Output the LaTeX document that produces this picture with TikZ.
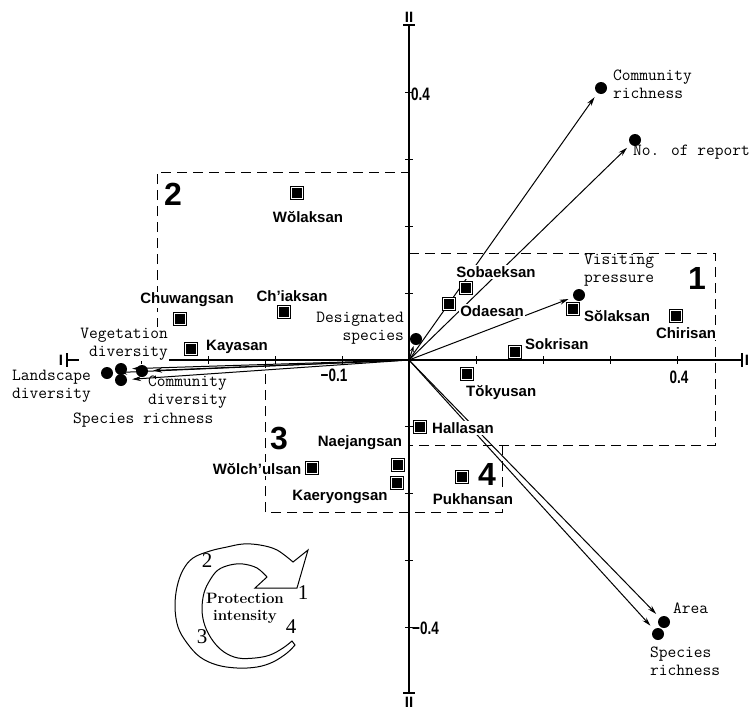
\documentclass[tikz,border=0pt]{standalone}
\usepackage{fontspec}
\newfontfamily\msans{Liberation Sans}
\newfontfamily\mserif{Liberation Serif}
\usetikzlibrary{arrows.meta}
\tikzset{
  lbl/.style={font=\fontsize{17}{18}\selectfont\ttfamily\addfontfeatures{FakeBold=0.4}, align=left, inner sep=1pt},
  mtn/.style={font=\fontsize{15}{16}\selectfont\msans\bfseries, fill=white, inner sep=1pt},
  site/.style={rectangle, draw=black, double=white, double distance=1.5pt, fill=black, line width=0.8pt, minimum size=11pt, inner sep=0pt},
  dot/.style={circle, fill=black, minimum size=12pt, inner sep=0pt},
  vec/.style={line width=1pt, -{Stealth[length=9pt, width=5pt]}, shorten >=5pt},
  grpbox/.style={line width=1pt, dash pattern=on 10pt off 6pt},
  axis/.style={line width=1.4pt},
  grp/.style={font=\fontsize{32}{32}\selectfont\msans\bfseries, inner sep=0pt, text height=23pt, text depth=0pt},
  num/.style={font=\fontsize{18}{18}\selectfont\msans\bfseries, inner sep=0pt},
  axlbl/.style={font=\fontsize{15}{15}\selectfont\msans\bfseries, inner sep=0pt},
  cyc/.style={font=\fontsize{21}{21}\selectfont\mserif, inner sep=0pt},
}
\begin{document}
\begin{tikzpicture}[x=1pt,y=-1pt]
\useasboundingbox (0,0) rectangle (749,715);
\coordinate (O) at (409,360);

% group boxes
\draw[grpbox] (157,360) -- (157,172) -- (409,172);
\draw[grpbox] (409,253) -- (715,253) -- (715,445) -- (409,445);
\draw[grpbox] (502,445) -- (502,512) -- (265,512) -- (265,360);

% axes
\coordinate (xl) at (67,360);
\coordinate (xr) at (742,360);
\coordinate (yt) at (409,25);
\coordinate (yb) at (409,693);
\draw[axis] (xl) -- (xr);
\draw[axis] (yt) -- (yb);
\foreach \k in {-4,...,4} {
  \draw[line width=1pt] (409+67*\k,356) -- (409+67*\k,364);
  \draw[line width=1pt] (405,360+66.8*\k) -- (413,360+66.8*\k);
}
\draw[line width=1.6pt] (67,353) -- (67,367);
\draw[line width=1.6pt] (742,353) -- (742,367);
\draw[line width=1.6pt] (403,25) -- (415,25);
\draw[line width=1.6pt] (403,693) -- (415,693);
\node[axlbl] (axIl) at (61,360) {I};
\node[axlbl] (axIr) at (747,360) {I};
\node[axlbl] (axIIt) at (409,17) {II};
\node[axlbl] (axIIb) at (409,702) {II};
\node[num, anchor=west] (t1) at (411,94.5) {\scalebox{0.75}[1]{0.4}};
\node[num, anchor=west] (t2) at (412,628) {\scalebox{0.75}[1]{−0.4}};
\node[num] (t3) at (334,375) {\scalebox{0.75}[1]{−0.1}};
\node[num] (t4) at (679,377) {\scalebox{0.75}[1]{0.4}};

% variable points
\node[dot] (cr) at (601,88) {};
\node[dot] (nr) at (635,140) {};
\node[dot] (vp) at (579,295) {};
\node[dot] (ds) at (416,339) {};
\node[dot] (ar) at (664,622) {};
\node[dot] (sr2) at (658,634) {};
\node[dot] (ld) at (107,373) {};
\node[dot] (vd) at (121,369) {};
\node[dot] (cd) at (121,380) {};
\node[dot] (sr1) at (142,371) {};

\draw[vec] (O) -- (cr);
\draw[vec] (O) -- (nr);
\draw[vec] (O) -- (vp);
\draw[vec, shorten >=1pt, -{Stealth[length=6pt,width=4pt]}] (O) -- (ds);
\draw[vec] (O) -- (ar);
\draw[vec] (O) -- (sr2);
\draw[vec] (O) -- (ld);
\draw[vec] (O) -- (vd);
\draw[vec] (O) -- (cd);
\draw[vec] (O) -- (sr1);

% sites
\node[site] (s1) at (297,193) {};
\node[site] (s2) at (180,319) {};
\node[site] (s3) at (284,312) {};
\node[site] (s4) at (191,349) {};
\node[site] (s5) at (466,288) {};
\node[site] (s6) at (449,304) {};
\node[site] (s7) at (573,309) {};
\node[site] (s8) at (676,316) {};
\node[site] (s9) at (515,352) {};
\node[site] (s10) at (467,374) {};
\node[site] (s11) at (420,427) {};
\node[site] (s12) at (398,465) {};
\node[site] (s13) at (397,483) {};
\node[site] (s14) at (312,468) {};
\node[site] (s15) at (462,477) {};

\node[mtn] (n1) at (308,217) {Wŏlaksan};
\node[mtn] (n2) at (187,300) {Chuwangsan};
\node[mtn] (n3) at (292,296) {Ch’iaksan};
\node[mtn, anchor=west] (n4) at (205,347) {Kayasan};
\node[mtn] (n5) at (496,272) {Sobaeksan};
\node[mtn] (n6) at (492,311) {Odaesan};
\node[mtn, anchor=west] (n7) at (583,316) {Sŏlaksan};
\node[mtn] (n8) at (686,333) {Chirisan};
\node[mtn, anchor=west] (n9) at (524,344) {Sokrisan};
\node[mtn, anchor=west] (n10) at (465,393) {Tŏkyusan};
\node[mtn, anchor=west] (n11) at (431,428) {Hallasan};
\node[mtn] (n12) at (360,443) {Naejangsan};
\node[mtn] (n13) at (340,497) {Kaeryongsan};
\node[mtn] (n14) at (257,469) {Wŏlch’ulsan};
\node[mtn] (n15) at (473,499) {Pukhansan};

% group numbers
\node[grp] (g1) at (697,278) {1};
\node[grp] (g2) at (173,194) {2};
\node[grp] (g3) at (279,438) {3};
\node[grp] (g4) at (487,474) {4};

% variable labels
\node[lbl, anchor=west] (lcr) at (612,84) {Community\\richness};
\node[lbl, anchor=west] (lnr) at (632,152) {No. of report};
\node[lbl, anchor=west] (lvp) at (583,270) {Visiting\\pressure};
\node[lbl, align=right, anchor=east] (lds) at (405,328) {Designated\\species};
\node[lbl, anchor=west] (lar) at (672,608) {Area};
\node[lbl, anchor=west] (lsr2) at (649,661) {Species\\richness};
\node[lbl, align=right, anchor=east, fill=white] (lvd) at (169,344) {Vegetation\\diversity};
\node[lbl, anchor=west] (lld) at (11,386) {Landscape\\diversity};
\node[lbl, anchor=west] (lcd) at (147,392) {Community\\diversity};
\node[lbl, anchor=west] (lsr1) at (72,420) {Species richness};

% protection intensity cycle arrow
\draw[line width=1pt, fill=white, line join=miter]
  (295,645) -- plot[smooth, tension=0.6] coordinates {(295,645) (287,653) (273,662) (257,667) (237,668) (217,665) (200,657) (187,643) (178,627) (175,607) (177,587) (183,570) (193,558) (210,551) (227,547) (243,544) (260,545) (277,550) (293,562)}
  -- (308,550) -- (297,588) -- (255,588) -- (267,577)
  -- plot[smooth, tension=0.6] coordinates {(267,577) (257,568) (243,564) (230,565) (218,570) (210,580) (204,593) (202,610) (205,626) (213,641) (224,652) (238,658) (255,658) (270,655) (283,648) (292,641)}
  -- cycle;
\node[font=\fontsize{15}{17}\selectfont\rmfamily\bfseries, align=center, inner sep=0pt] (pi) at (245,608) {Protection\\intensity};
\node[cyc] (c1) at (303,593) {1};
\node[cyc] (c2) at (207,561) {2};
\node[cyc] (c3) at (202,637) {3};
\node[cyc] (c4) at (291,627) {4};
\end{tikzpicture}
\end{document}
